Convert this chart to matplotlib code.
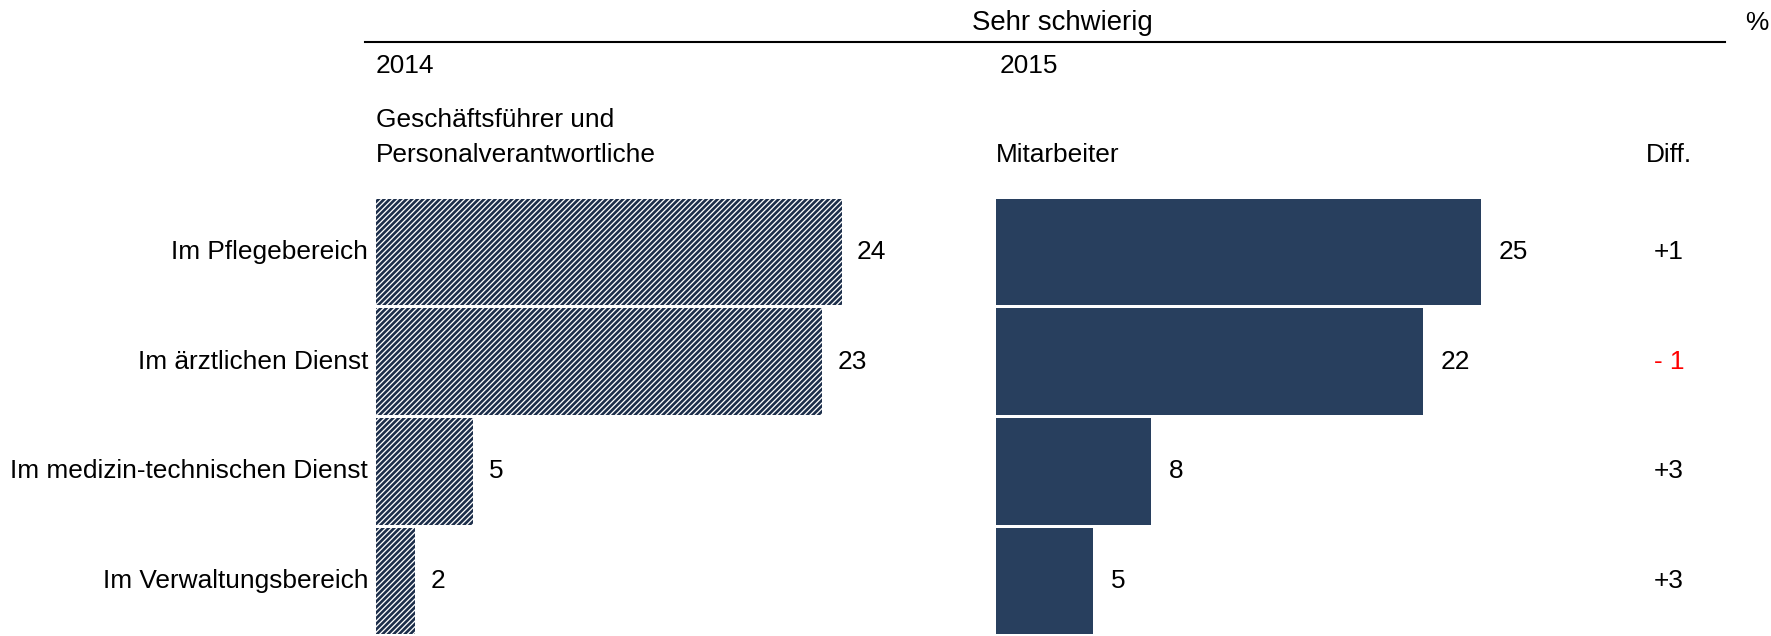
import numpy as np
import matplotlib.pyplot as plt

plt.rcParams['font.family'] = ['Liberation Sans', 'DejaVu Sans']
plt.rcParams['hatch.linewidth'] = 1.9
plt.rcParams['hatch.color'] = '#1c2e4a'

# Daten: "sehr schwierig", in Prozent
bereiche = ["Im Pflegebereich", "Im ärztlichen Dienst",
            "Im medizin-technischen Dienst", "Im Verwaltungsbereich"]
gf_2014 = [24, 23, 5, 2]     # Geschäftsführer und Personalverantwortliche
ma_2015 = [25, 22, 8, 5]     # Mitarbeiter

W, H = 1771, 636
FS = 18.9
fig = plt.figure(figsize=(W / 100, H / 100), dpi=100)

def fx(px):
    return px / W

def fy(py):
    return 1 - py / H

px_pro_einheit = 19.4
oben, unten = 197, 636

def balken_achse(x0, breite):
    ax = fig.add_axes([fx(x0), fy(unten), breite / W, (unten - oben) / H])
    ax.set_xlim(0, breite / px_pro_einheit)
    ax.set_ylim(3.5, -0.5)
    ax.axis('off')
    return ax

y = np.arange(len(bereiche))

ax1 = balken_achse(376, 560)
ax1.barh(y, gf_2014, height=0.97, color='white', edgecolor='#1c2e4a',
         hatch='//////', linewidth=0)
for i, v in enumerate(gf_2014):
    ax1.text(v + 0.8, i, str(v), va='center', ha='left', fontsize=FS)
    ax1.text(-0.4, i, bereiche[i], va='center', ha='right', fontsize=FS)

ax2 = balken_achse(996, 729)
ax2.barh(y, ma_2015, height=0.97, color='#283f5e', linewidth=0)
for i, v in enumerate(ma_2015):
    ax2.text(v + 0.9, i, str(v), va='center', ha='left', fontsize=FS)

# Differenz-Spalte
for i, (a, b) in enumerate(zip(gf_2014, ma_2015)):
    d = b - a
    if d >= 0:
        txt, col = f"+{d}", 'black'
    else:
        txt, col = f"- {abs(d)}", 'red'
    fig.text(fx(1669), fy(oben + (i + 0.5) * (unten - oben) / 4), txt,
             ha='center', va='center', fontsize=FS, color=col)

# Kopfzeilen
fig.add_artist(plt.Line2D([fx(365), fx(1725)], [fy(42), fy(42)],
                          color='black', linewidth=1.5))
fig.text(fx(1062), fy(23), "Sehr schwierig", ha='center', va='center', fontsize=FS + 1)
fig.text(fx(1757), fy(23), "%", ha='center', va='center', fontsize=FS)
fig.text(fx(376), fy(66), "2014", ha='left', va='center', fontsize=FS)
fig.text(fx(1000), fy(66), "2015", ha='left', va='center', fontsize=FS)
fig.text(fx(376), fy(120), "Geschäftsführer und", ha='left', va='center', fontsize=FS)
fig.text(fx(376), fy(155), "Personalverantwortliche", ha='left', va='center', fontsize=FS)
fig.text(fx(996), fy(155), "Mitarbeiter", ha='left', va='center', fontsize=FS)
fig.text(fx(1669), fy(155), "Diff.", ha='center', va='center', fontsize=FS)

fig.savefig('out.png', dpi=100)
